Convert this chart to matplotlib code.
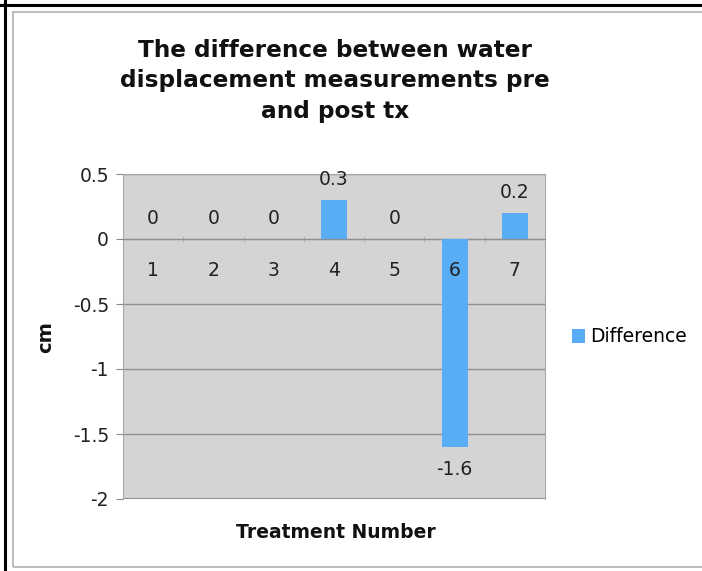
import numpy as np
import matplotlib
matplotlib.use('Agg')
from matplotlib import pyplot as plt
from matplotlib.patches import Rectangle
from matplotlib.lines import Line2D

# data
treatments = ['1', '2', '3', '4', '5', '6', '7']
difference = [0, 0, 0, 0.3, 0, -1.6, 0.2]
y_ticks = [0.5, 0, -0.5, -1, -1.5, -2]
title = 'The difference between water\ndisplacement measurements pre\nand post tx'

W, H = 702, 571
fs = 13.5
fig = plt.figure(figsize=(W / 100, H / 100), dpi=100)
fig.patch.set_facecolor('white')

# page frame (black) and chart border (grey)
fig.add_artist(Line2D([0, 1], [1 - 4.5 / H, 1 - 4.5 / H], color='black', lw=2.2,
                      transform=fig.transFigure))
fig.add_artist(Line2D([4.5 / W, 4.5 / W], [0, 1], color='black', lw=2.2,
                      transform=fig.transFigure))
fig.add_artist(Rectangle((13 / W, 1 - 567 / H), 1.0, (567 - 12) / H, fill=False,
                         edgecolor='#b0b0b0', lw=1.2, transform=fig.transFigure))

left, right, top, bottom = 123, 545, 174, 499
ax = fig.add_axes([left / W, 1 - bottom / H, (right - left) / W, (bottom - top) / H])
ax.set_facecolor('#d4d4d4')

x = np.arange(1, len(treatments) + 1)
ax.bar(x, difference, width=0.43, color='#58adf6', zorder=3, label='Difference')

ax.set_xlim(0.5, len(treatments) + 0.5)
ax.set_ylim(-2, 0.5)
ax.set_yticks(y_ticks)
ax.set_yticklabels([('%g' % v) for v in y_ticks], fontsize=fs, color='#222222')
ax.tick_params(axis='y', length=5, color='#888888', pad=5)
ax.yaxis.grid(True, color='#8f8f8f', lw=1, zorder=1)
ax.axhline(-2, color='#8f8f8f', lw=1.5, zorder=1)
ax.set_axisbelow(True)

# category axis sits on the zero line, labels drawn over the bars
ax.spines['bottom'].set_position(('data', 0))
ax.spines['bottom'].set_color('#8f8f8f')
ax.set_xticks(x)
ax.set_xticklabels([])
ax.tick_params(axis='x', length=0)
ax.set_xticks(np.arange(1.5, len(treatments), 1), minor=True)
ax.tick_params(axis='x', which='minor', length=4, direction='inout', color='#aaaaaa')
for xi, t in zip(x, treatments):
    ax.annotate(t, (xi, 0), xytext=(0, -22.5), textcoords='offset points',
                ha='center', va='center', fontsize=fs, color='#222222', zorder=5)
for s in ['top', 'left', 'right']:
    ax.spines[s].set_color('#a8a8a8')

# value labels
for xi, v in zip(x, difference):
    if v < 0:
        ax.annotate('%g' % v, (xi, v), xytext=(0, -16.5), textcoords='offset points',
                    ha='center', va='center', fontsize=fs, color='#222222')
    else:
        ax.annotate('%g' % v, (xi, v), xytext=(0, 14.5), textcoords='offset points',
                    ha='center', va='center', fontsize=fs, color='#222222')

fig.text(335 / W, 1 - 81 / H, title, ha='center', va='center', fontsize=16.7,
         fontweight='bold', linespacing=1.4, color='#111111')
fig.text(336 / W, 1 - 533 / H, 'Treatment Number', ha='center', va='center',
         fontsize=fs, fontweight='bold', color='#111111')
fig.text(46 / W, 1 - 337 / H, 'cm', ha='center', va='center', rotation=90,
         fontsize=14, fontweight='bold', color='#111111')

fig.legend(loc='center left', bbox_to_anchor=(555 / W, 1 - 337 / H), frameon=False,
           fontsize=fs, handlelength=0.7, handleheight=0.7, handletextpad=0.3)

fig.savefig('out.png', dpi=100)
